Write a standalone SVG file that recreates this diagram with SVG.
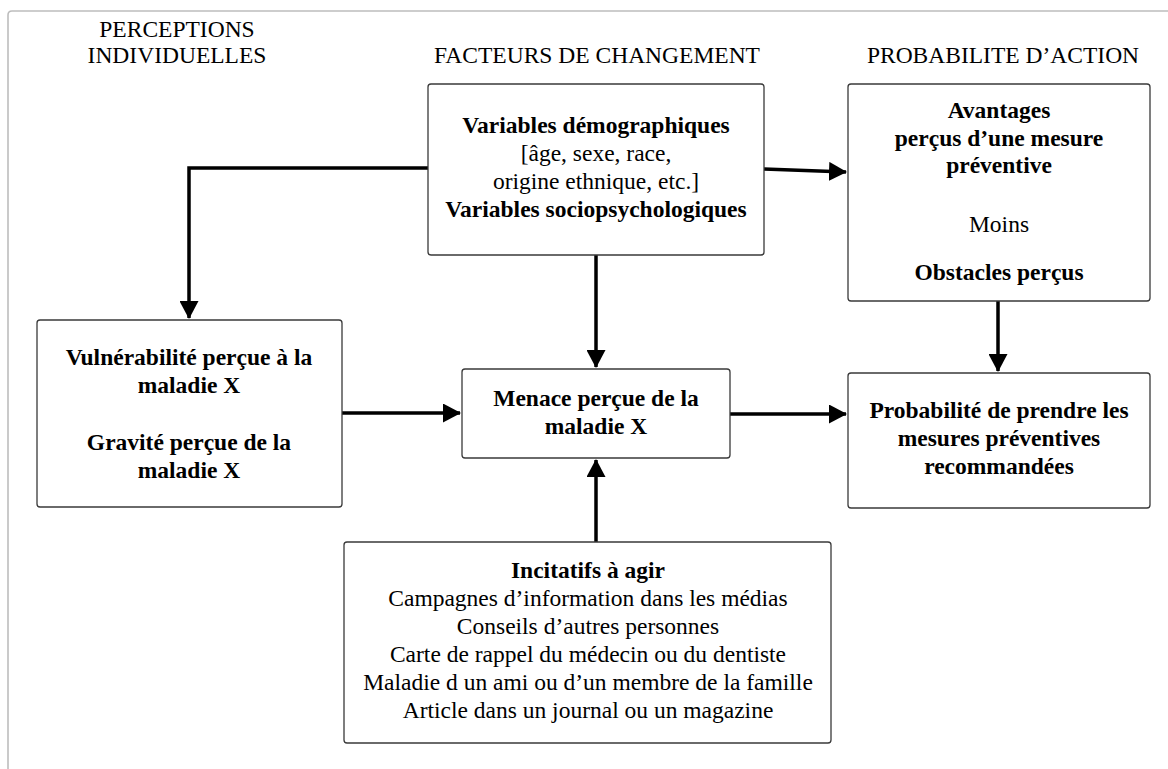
<svg xmlns="http://www.w3.org/2000/svg" width="1168" height="769" viewBox="0 0 1168 769">
<defs>
<style>
.frame{fill:none;stroke:#bdbdbd;stroke-width:1.6}
.box{fill:#fff;stroke:#3a3a3a;stroke-width:1.3}
text{font-family:'Liberation Serif','Times New Roman',Times,serif;font-size:23.5px;fill:#000;text-anchor:middle}
.b{font-weight:bold}
.c{fill:none;stroke:#000;stroke-width:3.5}
</style>
<marker id="ah" viewBox="0 0 18 19" refX="17" refY="9.5" markerWidth="18" markerHeight="19" markerUnits="userSpaceOnUse" orient="auto">
<path d="M0,0 L18,9.5 L0,19 z" fill="#000"/>
</marker>
</defs>
<rect width="1168" height="769" fill="#fff"/>
<path class="frame" d="M8,769 V15 Q8,11 12,11 H1168"/>

<g id="headers">
<text x="177" y="37">PERCEPTIONS</text>
<text x="177" y="63">INDIVIDUELLES</text>
<text x="597" y="63">FACTEURS DE CHANGEMENT</text>
<text x="1003" y="63">PROBABILITE D’ACTION</text>
</g>

<g id="connectors">
<path class="c" d="M428,168 H189 V318" marker-end="url(#ah)"/>
<path class="c" d="M764,169 L846,172" marker-end="url(#ah)"/>
<path class="c" d="M596,255 V367" marker-end="url(#ah)"/>
<path class="c" d="M342,413 H460" marker-end="url(#ah)"/>
<path class="c" d="M730,414 H846" marker-end="url(#ah)"/>
<path class="c" d="M998,301 V371" marker-end="url(#ah)"/>
<path class="c" d="M596,542 V460" marker-end="url(#ah)"/>
</g>

<g id="node-demo">
<rect class="box" x="428" y="84" width="336" height="171" rx="3"/>
<text class="b" x="596" y="133">Variables démographiques</text>
<text x="596" y="161">[âge, sexe, race,</text>
<text x="596" y="189">origine ethnique, etc.]</text>
<text class="b" x="596" y="217">Variables sociopsychologiques</text>
</g>

<g id="node-avantages">
<rect class="box" x="848" y="84" width="302" height="217" rx="3"/>
<text class="b" x="999" y="118">Avantages</text>
<text class="b" x="999" y="146">perçus d’une mesure</text>
<text class="b" x="999" y="173">préventive</text>
<text x="999" y="232">Moins</text>
<text class="b" x="999" y="280">Obstacles perçus</text>
</g>

<g id="node-vulnerabilite">
<rect class="box" x="37" y="320" width="305" height="187" rx="3"/>
<text class="b" x="189" y="365">Vulnérabilité perçue à la</text>
<text class="b" x="189" y="393">maladie X</text>
<text class="b" x="189" y="450">Gravité perçue de la</text>
<text class="b" x="189" y="478">maladie X</text>
</g>

<g id="node-menace">
<rect class="box" x="462" y="369" width="268" height="89" rx="3"/>
<text class="b" x="596" y="406">Menace perçue de la</text>
<text class="b" x="596" y="434">maladie X</text>
</g>

<g id="node-probabilite">
<rect class="box" x="848" y="373" width="302" height="135" rx="3"/>
<text class="b" x="999" y="418">Probabilité de prendre les</text>
<text class="b" x="999" y="446">mesures préventives</text>
<text class="b" x="999" y="474">recommandées</text>
</g>

<g id="node-incitatifs">
<rect class="box" x="344" y="542" width="487" height="201" rx="3"/>
<text class="b" x="588" y="578">Incitatifs à agir</text>
<text x="588" y="606">Campagnes d’information dans les médias</text>
<text x="588" y="634">Conseils d’autres personnes</text>
<text x="588" y="662">Carte de rappel du médecin ou du dentiste</text>
<text x="588" y="690">Maladie d un ami ou d’un membre de la famille</text>
<text x="588" y="718">Article dans un journal ou un magazine</text>
</g>
</svg>
